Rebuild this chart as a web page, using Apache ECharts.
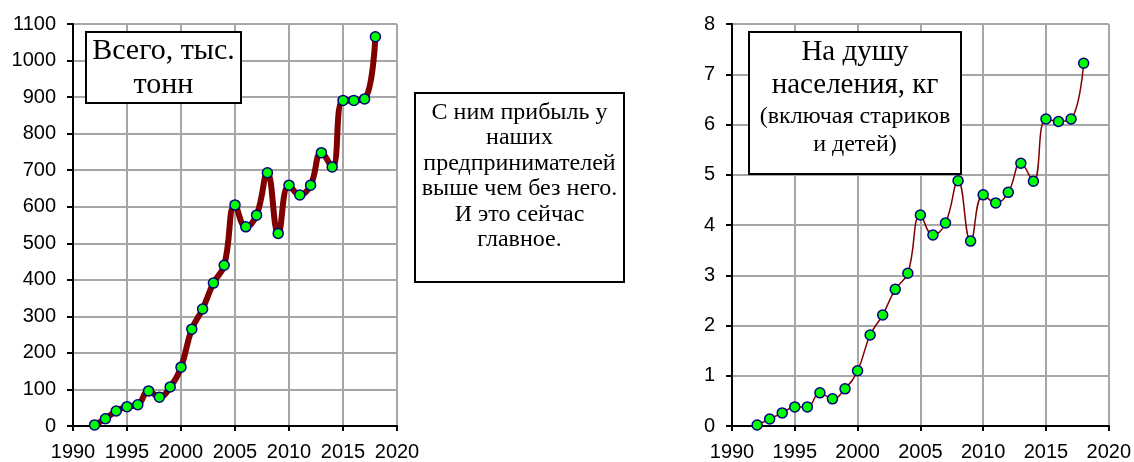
<!DOCTYPE html>
<html>
<head>
<meta charset="utf-8">
<script src="https://cdn.jsdelivr.net/npm/echarts@6/dist/echarts.min.js"></script>
<style>
  html, body { margin: 0; padding: 0; background: #fff; }
  #chart { width: 1134px; height: 462px; }
</style>
</head>
<body>
<div id="chart"></div>
<script>
// годы наблюдений
const years = [1992, 1993, 1994, 1995, 1996, 1997, 1998, 1999, 2000, 2001, 2002, 2003, 2004, 2005,
  2006, 2007, 2008, 2009, 2010, 2011, 2012, 2013, 2014, 2015, 2016, 2017, 2018]
// всего, тыс. тонн
const totalKt = [3, 20, 41, 53, 58, 96, 79, 107, 161, 265, 320, 391, 440, 605,
  545, 577, 693, 527, 659, 632, 659, 748, 709, 891, 891, 895, 1065]
// на душу населения, кг
const perCapitaKg = [0.02, 0.14, 0.26, 0.38, 0.38, 0.66, 0.54, 0.74, 1.10, 1.81, 2.21, 2.72, 3.04, 4.20,
  3.80, 4.04, 4.88, 3.68, 4.60, 4.44, 4.65, 5.23, 4.87, 6.11, 6.06, 6.11, 7.22]

const totalLabel = 'Всего, тыс.\nтонн'
const perCapitaTitle = 'На душу\nнаселения, кг'
const perCapitaNote = '(включая стариков\nи детей)'
const middleNote = 'С ним прибыль у\nнаших\nпредпринимателей\nвыше чем без него.\nИ это сейчас\nглавное.'

const sans = '"Liberation Sans", Arial, sans-serif'
const serif = '"Liberation Serif", "Times New Roman", serif'

const toPairs = (ys) => years.map((y, i) => [y, ys[i]])
const plain = (v) => String(v)

const xAxisBase = (gridIndex) => ({
  type: 'value',
  gridIndex,
  min: 1990,
  max: 2020,
  interval: 5,
  axisLine: { show: true, onZero: false, lineStyle: { color: '#000', width: 2 } },
  axisTick: { show: true, length: 5, lineStyle: { color: '#000', width: 2 } },
  axisLabel: { color: '#000', fontSize: 20, fontFamily: sans, margin: 16, formatter: plain },
  splitLine: { show: true, lineStyle: { color: '#a6a6a6', width: 2 } },
})

const yAxisBase = (gridIndex, max) => ({
  type: 'value',
  gridIndex,
  min: 0,
  max,
  interval: max > 100 ? 100 : 1,
  axisLine: { show: true, lineStyle: { color: '#000', width: 2 } },
  axisTick: { show: true, length: 6, lineStyle: { color: '#000', width: 2 } },
  axisLabel: { color: '#000', fontSize: 20, fontFamily: sans, margin: 17, formatter: plain },
  splitLine: { show: true, lineStyle: { color: '#a6a6a6', width: 2 } },
})

const marker = {
  color: '#00ff00',
  borderColor: '#000080',
  borderWidth: 1.5,
}

// рамка с подписью поверх графика
const box = (x, y, w, h) => ({
  type: 'rect',
  z: 100,
  shape: { x, y, width: w, height: h },
  style: { fill: '#fff', stroke: '#000', lineWidth: 2 },
})
const label = (x, y, text, size, lineHeight) => ({
  type: 'text',
  z: 101,
  x,
  y,
  style: {
    text,
    font: size + 'px ' + serif,
    fill: '#000',
    align: 'center',
    verticalAlign: 'middle',
    lineHeight,
  },
})

const chart = echarts.init(document.getElementById('chart'), null, { renderer: 'canvas' })

chart.setOption({
  animation: false,
  backgroundColor: '#fff',
  grid: [
    { left: 73, top: 24, width: 324, height: 403 },
    { left: 732, top: 24, width: 377, height: 403 },
  ],
  xAxis: [xAxisBase(0), xAxisBase(1)],
  yAxis: [yAxisBase(0, 1100), yAxisBase(1, 8)],
  series: [
    {
      type: 'line',
      xAxisIndex: 0,
      yAxisIndex: 0,
      data: toPairs(totalKt),
      smooth: 0.45,
      symbol: 'circle',
      symbolSize: 10,
      lineStyle: { color: '#800000', width: 6 },
      itemStyle: marker,
      z: 3,
    },
    {
      type: 'line',
      xAxisIndex: 1,
      yAxisIndex: 1,
      data: toPairs(perCapitaKg),
      smooth: 0.45,
      symbol: 'circle',
      symbolSize: 10,
      lineStyle: { color: '#800000', width: 1.5 },
      itemStyle: marker,
      z: 3,
    },
  ],
  graphic: [
    box(86, 32, 155, 71),
    label(163.5, 68, totalLabel, 30, 34),
    box(415, 93, 209, 189),
    label(519.5, 176, middleNote, 24, 25.5),
    box(749, 32, 212, 142),
    label(855, 69, perCapitaTitle, 29, 33),
    label(855, 131, perCapitaNote, 24, 28),
  ],
})

window.addEventListener('resize', () => chart.resize())
</script>
</body>
</html>
